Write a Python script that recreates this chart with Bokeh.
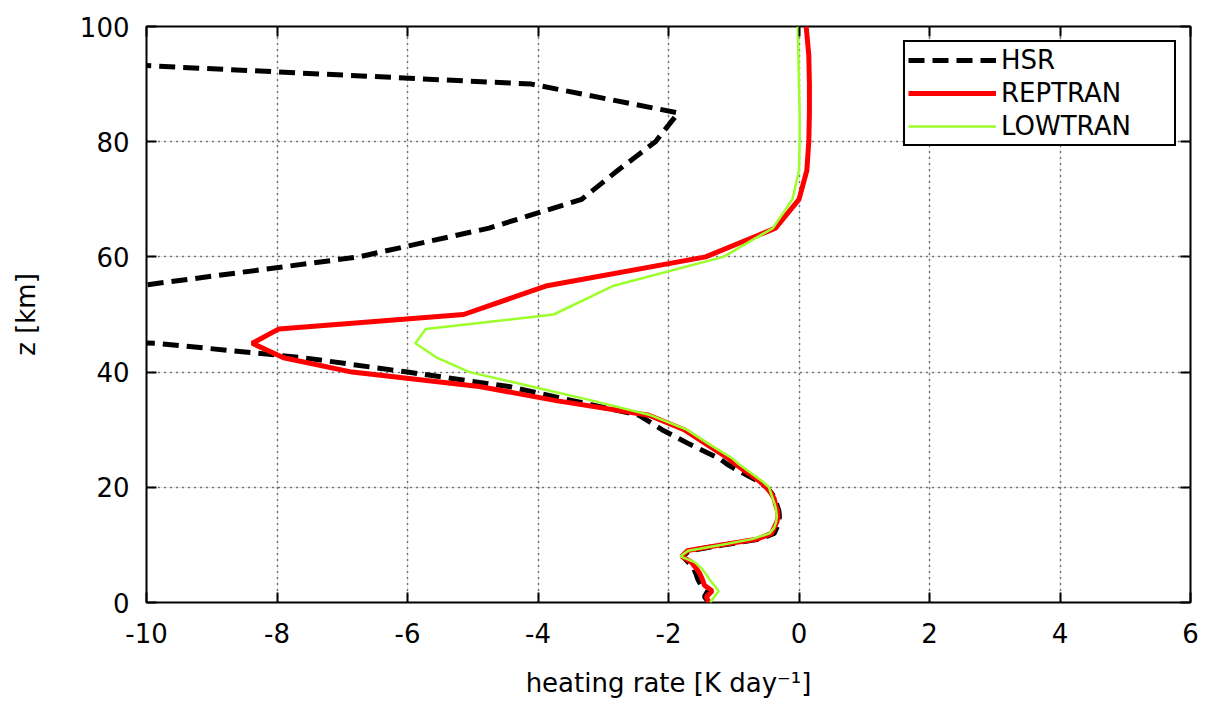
from bokeh.plotting import figure
from bokeh.models import LinearAxis, FixedTicker, Legend, LegendItem, Range1d, Grid
from bokeh.embed import file_html
from bokeh.resources import INLINE

# altitude levels [km]
z = [0, 1, 2, 3, 4, 5, 6, 7, 8, 9, 10, 11, 12, 13, 14, 15, 16, 17, 18, 19, 20,
     21, 22, 23, 24, 25, 27.5, 30, 32.5, 35, 37.5, 40, 42.5, 45, 47.5, 50,
     55, 60, 65, 70, 75, 80, 85, 90, 95, 100]

hsr = [-1.38, -1.45, -1.40, -1.50, -1.55, -1.58, -1.62, -1.70, -1.78, -1.68, -1.15,
       -0.60, -0.38, -0.34, -0.31, -0.30, -0.31, -0.34, -0.37, -0.42, -0.50,
       -0.62, -0.78, -0.95, -1.10, -1.22, -1.68, -2.10, -2.45, -3.45, -4.45, -6.00,
       -7.60, -9.85, -20.0, -25.0, -10.1, -6.75, -4.75, -3.33, -2.78, -2.20, -1.85,
       -4.10, -13.3, -30.0]

reptran = [-1.38, -1.42, -1.33, -1.45, -1.48, -1.52, -1.58, -1.65, -1.80, -1.71, -1.19,
           -0.64, -0.42, -0.38, -0.34, -0.32, -0.33, -0.36, -0.38, -0.43, -0.50,
           -0.60, -0.72, -0.85, -0.97, -1.08, -1.42, -1.76, -2.30, -3.70, -4.90, -6.85,
           -7.90, -8.38, -7.97, -5.14, -3.86, -1.43, -0.36, 0.00, 0.12, 0.15, 0.16,
           0.16, 0.15, 0.11]

lowtran = [-1.36, -1.30, -1.23, -1.30, -1.37, -1.43, -1.50, -1.60, -1.82, -1.70, -1.20,
           -0.72, -0.45, -0.38, -0.35, -0.34, -0.35, -0.37, -0.40, -0.43, -0.46,
           -0.56, -0.68, -0.80, -0.92, -1.02, -1.38, -1.72, -2.27, -3.15, -4.10, -5.05,
           -5.55, -5.88, -5.72, -3.76, -2.84, -1.16, -0.40, -0.10, 0.00, 0.01, 0.01,
           0.00, -0.01, -0.02]

x_ticks = [-10, -8, -6, -4, -2, 0, 2, 4, 6]
y_ticks = [0, 20, 40, 60, 80, 100]

FONT = "DejaVu Sans"
FS = "26px"

p = figure(width=1214, height=708, output_backend="svg", toolbar_location=None,
           x_range=Range1d(-10, 6), y_range=Range1d(0, 100),
           min_border_left=146, min_border_right=24, min_border_top=26,
           min_border_bottom=106, x_axis_location=None, y_axis_location=None)
p.outline_line_color = "black"
p.outline_line_width = 2
p.outline_line_alpha = 1.0
p.background_fill_color = "white"
p.border_fill_color = "white"

def style_axis(ax, ticks, show_labels):
    ax.ticker = FixedTicker(ticks=ticks)
    ax.major_label_overrides = {t: (str(t) if show_labels else "") for t in ticks}
    ax.major_tick_in = 10
    ax.major_tick_out = 0
    ax.major_tick_line_width = 2
    ax.major_tick_line_color = "black"
    ax.minor_tick_line_color = None
    ax.axis_line_color = None
    ax.major_label_text_font = FONT
    ax.major_label_text_font_size = FS if show_labels else "0px"
    ax.major_label_text_color = "black"
    ax.axis_label_text_font = FONT
    ax.axis_label_text_font_size = FS
    ax.axis_label_text_font_style = "normal"
    ax.axis_label_text_color = "black"

xb = LinearAxis(axis_label="heating rate [K day\u207b\u00b9]")
style_axis(xb, x_ticks, True)
xb.major_label_standoff = 20
xb.axis_label_standoff = 22
p.add_layout(xb, "below")

yl = LinearAxis(axis_label="z [km]")
style_axis(yl, y_ticks, True)
yl.major_label_standoff = 17
yl.axis_label_standoff = 36
p.add_layout(yl, "left")

xt = LinearAxis()
style_axis(xt, x_ticks, False)
xt.major_label_standoff = 0
p.add_layout(xt, "above")

yr = LinearAxis()
style_axis(yr, y_ticks, False)
yr.major_label_standoff = 0
p.add_layout(yr, "right")

p.add_layout(Grid(dimension=0, ticker=FixedTicker(ticks=x_ticks[1:-1]),
                  grid_line_color="black", grid_line_dash="1 5", grid_line_width=1.5))
p.add_layout(Grid(dimension=1, ticker=FixedTicker(ticks=y_ticks[1:-1]),
                  grid_line_color="black", grid_line_dash="1 5", grid_line_width=1.5))

r_hsr = p.line(hsr, z, line_color="black", line_width=5, line_dash="16 8")
r_rep = p.line(reptran, z, line_color="#ff0000", line_width=5)
r_low = p.line(lowtran, z, line_color="#9cff2a", line_width=2.5)

legend = Legend(items=[LegendItem(label="HSR", renderers=[r_hsr]),
                       LegendItem(label="REPTRAN", renderers=[r_rep]),
                       LegendItem(label="LOWTRAN", renderers=[r_low])],
                location="top_right")
legend.label_text_font = FONT
legend.label_text_font_size = FS
legend.label_text_color = "black"
legend.glyph_width = 88
legend.glyph_height = 24
legend.label_height = 24
legend.label_width = 170
legend.spacing = 3
legend.padding = 3
legend.margin = 14
legend.border_line_color = "black"
legend.border_line_width = 2
legend.border_line_alpha = 1.0
legend.background_fill_alpha = 1.0
p.add_layout(legend)

open("out.html", "w").write(file_html(p, INLINE))
